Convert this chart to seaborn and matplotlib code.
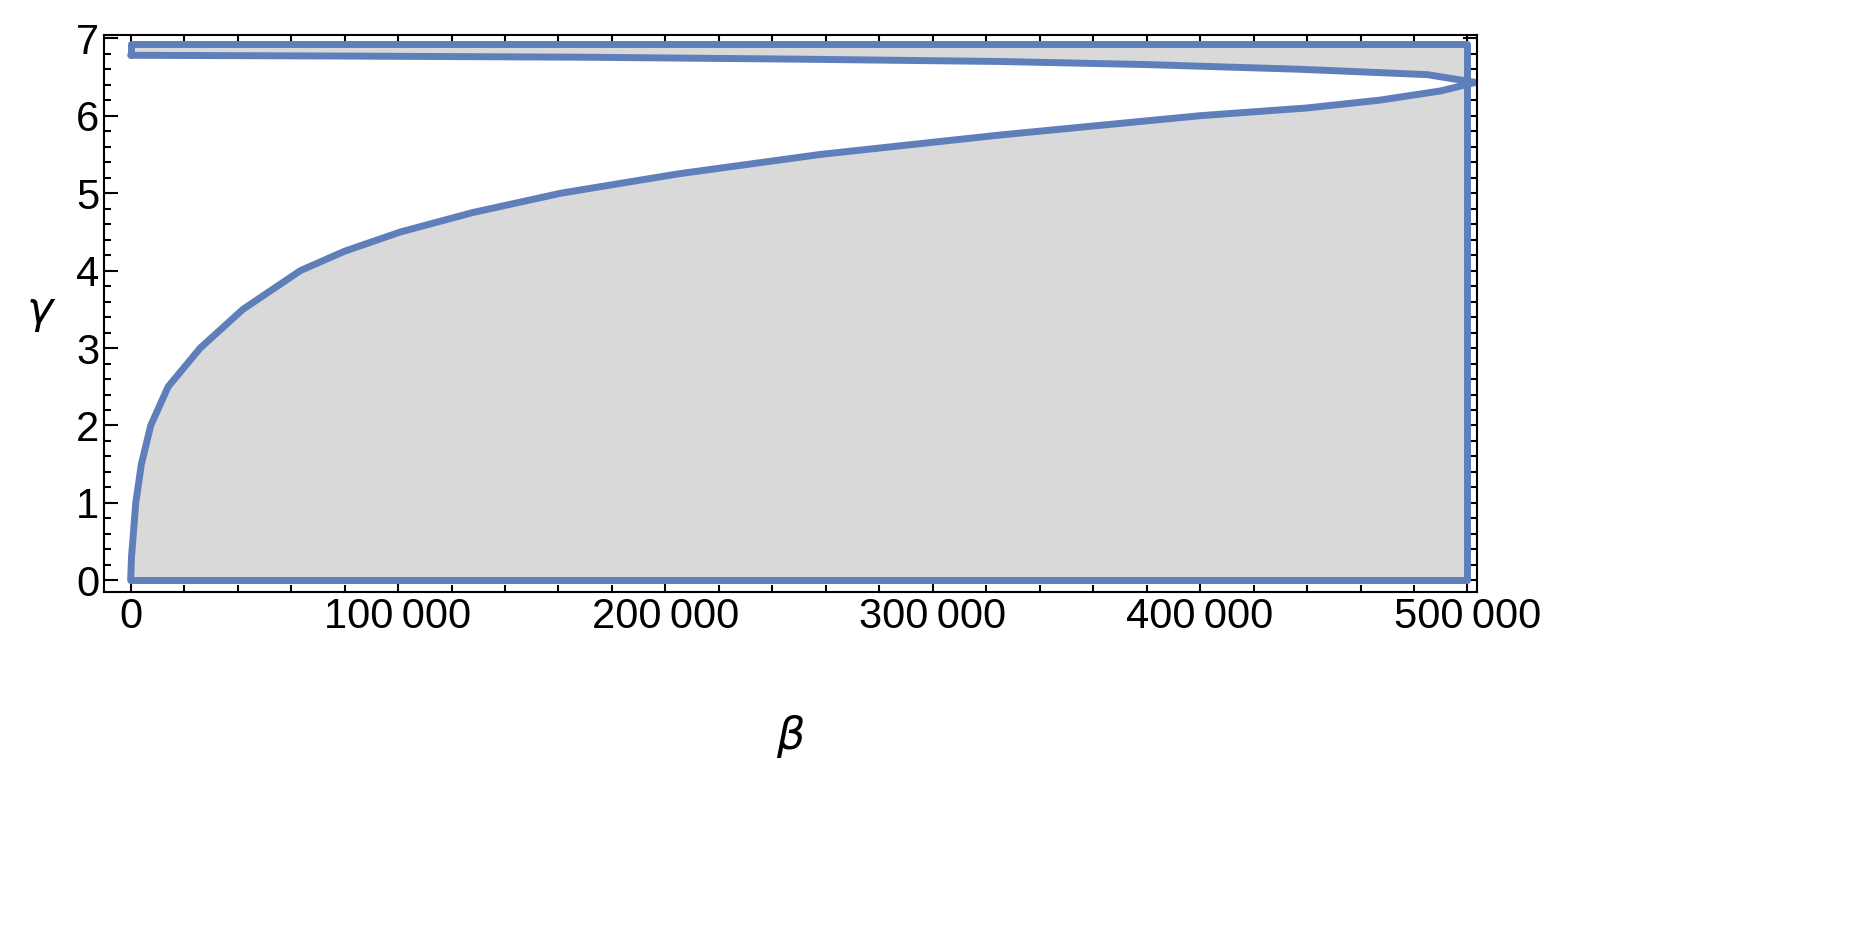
import numpy as np
import matplotlib
matplotlib.use("Agg")
import matplotlib.pyplot as plt
import seaborn as sns
from matplotlib.ticker import MultipleLocator, FuncFormatter

sns.set_theme(style="ticks")
plt.rcParams['font.family'] = ['Liberation Sans', 'DejaVu Sans']

# boundary curve of the region (beta, gamma)
beta_curve = [0, 300, 1000, 1900, 4000, 7500, 14000, 26000, 42000, 63500, 80000, 101000, 128000,
              161000, 205000, 258000, 325000, 400000, 440000, 467000, 490000, 503000,
              485000, 437000, 380000, 325000, 250000, 170000, 80000, 0]
gamma_curve = [0.0, 0.3, 0.6, 1.0, 1.5, 2.0, 2.5, 3.0, 3.5, 4.0, 4.25, 4.5, 4.75,
               5.0, 5.25, 5.5, 5.75, 6.0, 6.1, 6.2, 6.32, 6.43,
               6.53, 6.6, 6.66, 6.7, 6.73, 6.755, 6.77, 6.78]
beta_max = 500000
gamma_max = 6.93

blue = '#5f7fbb'
fig, ax = plt.subplots(figsize=(18.56, 9.25), dpi=100)
fig.subplots_adjust(left=0.056, right=0.796, top=0.962, bottom=0.36)

ax.fill([0, beta_max, beta_max, 0], [0, 0, gamma_max, gamma_max], color='#d9d9d9', lw=0)
ax.fill(beta_curve, gamma_curve, color='white', lw=0)
sns.lineplot(x=beta_curve, y=gamma_curve, sort=False, estimator=None, ax=ax, color=blue, lw=5)
ax.plot([0, 0, beta_max, beta_max, 0], [gamma_curve[-1], gamma_max, gamma_max, 0, 0], color=blue, lw=5)
ax.grid(False)

ax.set_xlim(-10000, 503700)
ax.set_ylim(-0.15, 7.04)
ax.xaxis.set_major_locator(MultipleLocator(100000))
ax.xaxis.set_minor_locator(MultipleLocator(20000))
ax.yaxis.set_major_locator(MultipleLocator(1))
ax.yaxis.set_minor_locator(MultipleLocator(0.2))
ax.xaxis.set_major_formatter(FuncFormatter(lambda v, p: f"{int(v):,}".replace(',', '\u2009')))
ax.tick_params(which='both', direction='in', top=True, right=True, labelsize=30, width=1.5,
               colors='black')
ax.tick_params(which='major', length=10)
ax.tick_params(which='minor', length=5)
for s in ax.spines.values():
    s.set_linewidth(1.5)
    s.set_color('black')
ax.set_xlabel(r'$\beta$', fontsize=32, labelpad=55, color='black')
ax.set_ylabel(r'$\gamma$', fontsize=32, rotation=0, labelpad=25, va='center', color='black')

fig.savefig('out.png', dpi=100, facecolor='white')
